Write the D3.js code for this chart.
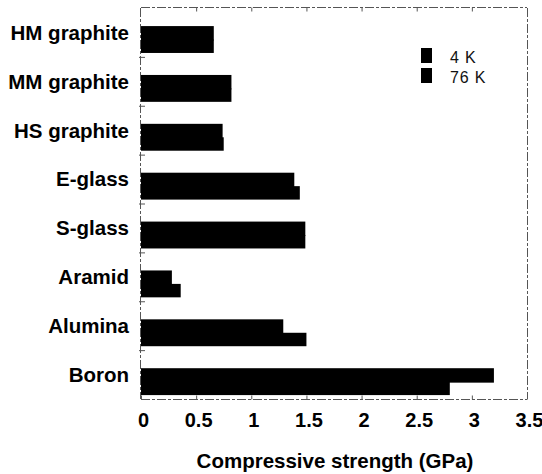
<!DOCTYPE html>
<html>
<head>
<meta charset="utf-8">
<script src="https://cdn.jsdelivr.net/npm/d3@7"></script>
<style>
  html, body { margin: 0; padding: 0; background: #fff; }
  svg { display: block; }
</style>
</head>
<body>
<svg id="chart" width="542" height="474"></svg>
<script>
// Compressive strength of fibres at cryogenic temperatures
const categories = ["HM graphite", "MM graphite", "HS graphite", "E-glass", "S-glass", "Aramid", "Alumina", "Boron"];
const seriesNames = ["4 K", "76 K"];
const values4K  = [0.66, 0.82, 0.74, 1.39, 1.49, 0.28, 1.29, 3.20];
const values76K = [0.66, 0.82, 0.75, 1.44, 1.49, 0.36, 1.50, 2.80];
const xTicks = [0, 0.5, 1, 1.5, 2, 2.5, 3, 3.5];
const xTickLabels = ["0", "0.5", "1", "1.5", "2", "2.5", "3", "3.5"];
const xTitle = "Compressive strength (GPa)";

const seriesValues = [values4K, values76K];
const rows = categories.map((c, i) => ({ category: c, values: seriesValues.map(s => s[i]) }));

const svg = d3.select("#chart");
const plot = { left: 141, right: 527, top: 8, bottom: 399 };
const frameColor = "#555";
const font = "Liberation Sans, Arial, sans-serif";

const x = d3.scaleLinear().domain([0, 3.5]).range([plot.left, plot.right]);
const y = d3.scaleBand().domain(categories).range([plot.top, plot.bottom]).paddingInner(0).paddingOuter(0);
const bw = y.bandwidth();
// bar pair sits in the lower part of each band
const barTop = bw * 0.37, barH = bw * 0.55;
const ySub = d3.scaleBand().domain(seriesNames).range([barTop, barTop + barH]).padding(0);

// bars (the upper bar overlaps the lower one slightly so the pair reads as one block)
const groups = svg.append("g").selectAll("g").data(rows).join("g")
  .attr("transform", d => `translate(0,${y(d.category)})`);
groups.selectAll("rect").data(d => d.values.map((v, k) => ({ name: seriesNames[k], v })))
  .join("rect")
  .attr("x", x(0))
  .attr("y", d => ySub(d.name))
  .attr("width", d => x(d.v) - x(0))
  .attr("height", d => ySub.bandwidth() + (d.name === "4 K" ? 1 : 0))
  .attr("fill", "#000");

// frame
const frame = svg.append("g").attr("stroke", frameColor).attr("stroke-width", 1).attr("fill", "none")
  .attr("stroke-dasharray", "9 2 3 2");
frame.append("line").attr("x1", plot.left - 0.5).attr("x2", plot.left - 0.5).attr("y1", plot.top).attr("y2", plot.bottom);
frame.append("line").attr("x1", plot.left).attr("x2", plot.right).attr("y1", plot.bottom + 0.5).attr("y2", plot.bottom + 0.5);
frame.append("line").attr("x1", plot.left).attr("x2", plot.right).attr("y1", plot.top - 0.5).attr("y2", plot.top - 0.5);
frame.append("line").attr("x1", plot.right + 0.5).attr("x2", plot.right + 0.5).attr("y1", plot.top).attr("y2", plot.bottom);

// bottom axis: ticks point inward, labels bold
const xAxis = d3.axisBottom(x).tickValues(xTicks).tickFormat((d, i) => xTickLabels[i])
  .tickSizeInner(-4).tickSizeOuter(0).tickPadding(13);
const gx = svg.append("g").attr("transform", `translate(0,${plot.bottom + 0.5})`).call(xAxis);
gx.select(".domain").remove();
gx.selectAll(".tick line").attr("stroke", frameColor);
gx.selectAll(".tick text")
  .attr("font-family", font)
  .attr("font-weight", "bold").attr("font-size", 20).attr("fill", "#000")
  .attr("dx", 2);

// top ticks
const xTop = d3.axisTop(x).tickValues(xTicks.slice(1, -1)).tickSizeInner(-4).tickSizeOuter(0).tickFormat("");
const gt = svg.append("g").attr("transform", `translate(0,${plot.top - 0.5})`).call(xTop);
gt.select(".domain").remove();
gt.selectAll(".tick line").attr("stroke", frameColor);

// left axis: category labels and boundary ticks
const yAxis = d3.axisLeft(y).tickSize(0).tickPadding(12);
const gy = svg.append("g").attr("transform", `translate(${plot.left},0)`).call(yAxis);
gy.select(".domain").remove();
gy.selectAll(".tick text")
  .attr("font-family", font)
  .attr("font-weight", "bold").attr("font-size", 20.5).attr("fill", "#000")
  .attr("dy", "0.36em");
svg.append("g").selectAll("line").data(categories.slice(1)).join("line")
  .attr("x1", plot.left - 2).attr("x2", plot.left + 4)
  .attr("y1", d => y(d) + 0.5).attr("y2", d => y(d) + 0.5)
  .attr("stroke", frameColor);

// axis title
svg.append("text")
  .attr("x", (plot.left + plot.right) / 2 + 1).attr("y", 468)
  .attr("text-anchor", "middle")
  .attr("font-family", font)
  .attr("font-weight", "bold").attr("font-size", 20.5).attr("fill", "#000")
  .text(xTitle);

// legend
const legend = svg.append("g").attr("transform", "translate(421,48)");
const li = legend.selectAll("g").data(seriesNames).join("g")
  .attr("transform", (d, i) => `translate(0,${i * 20})`);
li.append("rect").attr("width", 11).attr("height", 15).attr("fill", "#000");
li.append("text").attr("x", 29).attr("y", 14.5)
  .attr("font-family", font)
  .attr("font-size", 16).attr("fill", "#111").attr("letter-spacing", 0.8)
  .text(d => d);
</script>
</body>
</html>
